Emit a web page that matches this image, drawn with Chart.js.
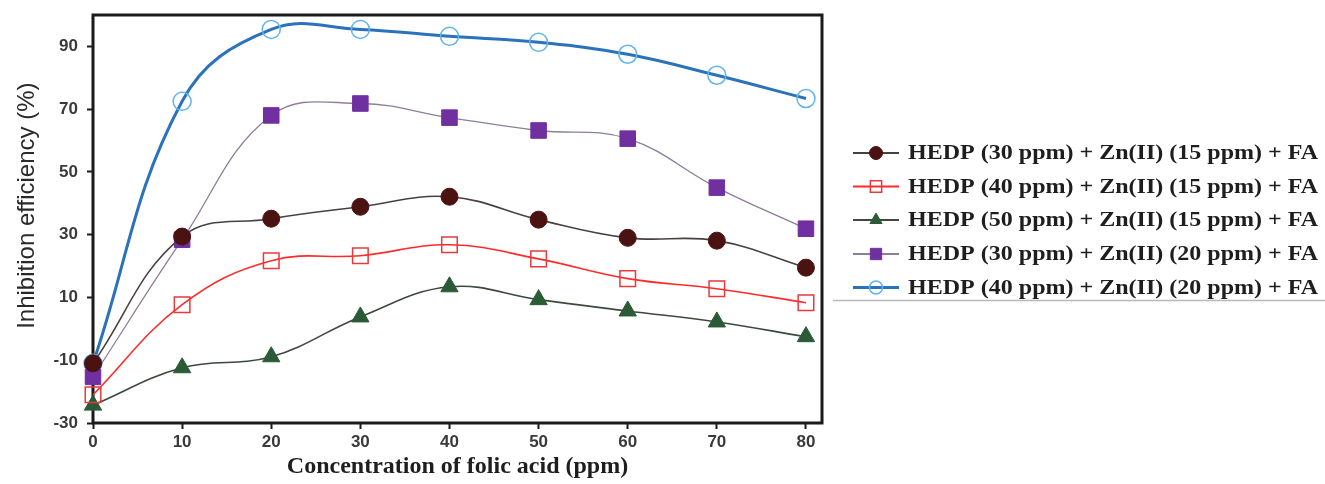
<!DOCTYPE html>
<html><head><meta charset="utf-8">
<script src="https://cdn.jsdelivr.net/npm/chart.js@4.4.1/dist/chart.umd.min.js"></script>
<style>html,body{margin:0;padding:0;background:#fff;}#wrap{width:1325px;height:484px;}</style>
</head><body><div id="wrap"><canvas id="c" width="1325" height="484"></canvas></div>
<script>
const concentrations = [0, 10, 20, 30, 40, 50, 60, 70, 80];
const xTicks = [0, 10, 20, 30, 40, 50, 60, 70, 80];
const yTicks = [-30, -10, 10, 30, 50, 70, 90];
const seriesLabels = [
  "HEDP (30 ppm) + Zn(II) (15 ppm) + FA",
  "HEDP (40 ppm) + Zn(II) (15 ppm) + FA",
  "HEDP (50 ppm) + Zn(II) (15 ppm) + FA",
  "HEDP (30 ppm) + Zn(II) (20 ppm) + FA",
  "HEDP (40 ppm) + Zn(II) (20 ppm) + FA"
];
const hedp30zn15 = [-11, 29.4, 35.1, 38.9, 42.1, 34.8, 29.0, 28.1, 19.5];
const hedp40zn15 = [-21, 7.7, 21.7, 23.3, 26.8, 22.3, 16.0, 12.8, 8.3];
const hedp50zn15 = [-24.3, -12.4, -8.9, 3.8, 13.4, 9.3, 5.7, 2.2, -2.5];
const hedp30zn20 = [-15.3, 28.4, 68.0, 71.8, 67.3, 63.2, 60.6, 45.0, 31.9];
const hedp40zn20 = [-11, 72.5, 95.4, 95.4, 93.2, 91.3, 87.5, 80.8, 73.4];

const styles = [
  {line:'#4a4040', lw:1.6, ps:'circle', r:8.5, lr:6.5, fill:'#4b1212', stroke:'#4b1212', bw:1},
  {line:'#ff2a2a', lw:1.6, ps:'rect', r:11, lr:8, fill:'rgba(0,0,0,0)', stroke:'#e83a3a', bw:1.5},
  {line:'#3c4a3e', lw:1.6, ps:'triangle', r:10, lr:7, fill:'#2b5a36', stroke:'#2b5a36', bw:1},
  {line:'#8e7d98', lw:1.3, ps:'rect', r:11, lr:8, fill:'#7030a0', stroke:'#7030a0', bw:1},
  {line:'#2a72bc', lw:3, ps:'circle', r:9, lr:6.5, fill:'rgba(0,0,0,0)', stroke:'#62b4ea', bw:1.5}
];
const allSeries = [hedp30zn15, hedp40zn15, hedp50zn15, hedp30zn20, hedp40zn20];

const datasets = allSeries.map((vals, i) => ({
  label: seriesLabels[i],
  data: concentrations.map((x, j) => ({x: x, y: vals[j]})),
  borderColor: styles[i].line,
  borderWidth: styles[i].lw,
  pointStyle: styles[i].ps,
  pointRadius: styles[i].r,
  pointBackgroundColor: styles[i].fill,
  pointBorderColor: styles[i].stroke,
  pointBorderWidth: styles[i].bw,
  legendRadius: styles[i].lr,
  tension: 0.4,
  clip: false,
  fill: false
}));

const frame = {
  id: 'frame',
  beforeDatasetsDraw(chart) {
    const a = chart.chartArea, ctx = chart.ctx;
    ctx.save();
    ctx.strokeStyle = '#1a1a1a';
    ctx.lineWidth = 3;
    ctx.strokeRect(a.left, a.top, a.right - a.left, a.bottom - a.top);
    ctx.restore();
  }
};

const legendPlugin = {
  id: 'customLegend',
  afterDraw(chart) {
    const ctx = chart.ctx;
    const x0 = 853, x1 = 899, tx = 908;
    const ys = [153, 186.5, 220, 254, 287.5];
    ctx.save();
    chart.data.datasets.forEach((ds, i) => {
      const y = ys[i];
      ctx.strokeStyle = ds.borderColor;
      ctx.lineWidth = Math.max(2, ds.borderWidth);
      ctx.beginPath(); ctx.moveTo(x0, y); ctx.lineTo(x1, y); ctx.stroke();
      ctx.fillStyle = ds.pointBackgroundColor;
      ctx.strokeStyle = ds.pointBorderColor;
      ctx.lineWidth = ds.pointBorderWidth;
      Chart.helpers.drawPoint(ctx, {pointStyle: ds.pointStyle, radius: ds.legendRadius, borderWidth: ds.pointBorderWidth, rotation: 0}, (x0 + x1) / 2, y);
      ctx.save();
      ctx.fillStyle = '#1e1e1e';
      ctx.font = 'bold 20px "Liberation Serif", "Times New Roman", serif';
      ctx.textBaseline = 'middle';
      ctx.textAlign = 'left';
      const w = ctx.measureText(ds.label).width;
      const sx = 410 / w;
      ctx.translate(tx, y + 1);
      ctx.scale(sx, 1);
      ctx.fillText(ds.label, 0, 0);
      ctx.restore();
    });
    ctx.strokeStyle = '#b8b8b8';
    ctx.lineWidth = 1.5;
    ctx.beginPath(); ctx.moveTo(833, 300.5); ctx.lineTo(1325, 300.5); ctx.stroke();
    ctx.restore();
  }
};

new Chart(document.getElementById('c'), {
  type: 'line',
  data: { datasets },
  plugins: [frame, legendPlugin],
  options: {
    responsive: false,
    animation: false,
    layout: { padding: { left: 0, right: 503, top: 15, bottom: 0 } },
    plugins: { legend: { display: false }, tooltip: { enabled: false } },
    scales: {
      x: {
        type: 'linear', min: 0, max: 81.8,
        afterBuildTicks: s => { s.ticks = xTicks.map(v => ({value: v})); },
        afterFit: s => { s.height = 61; s.paddingLeft = 0; s.paddingRight = 0; },
        grid: { drawOnChartArea: false, tickLength: 6, tickWidth: 2, tickColor: '#1a1a1a' },
        border: { display: false },
        ticks: { color: '#3a3a3a', padding: 3, font: { family: '"Liberation Sans", Arial, sans-serif', size: 17, weight: 'bold' } },
        title: { display: true, text: 'Concentration of folic acid (ppm)', color: '#1e1e1e',
          font: { family: '"Liberation Serif", "Times New Roman", serif', size: 24, weight: 'bold' },
          padding: { top: 0, bottom: 3 } }
      },
      y: {
        type: 'linear', min: -30, max: 100,
        afterBuildTicks: s => { s.ticks = yTicks.map(v => ({value: v})); },
        afterFit: s => { s.width = 93; s.paddingTop = 0; s.paddingBottom = 0; },
        grid: { drawOnChartArea: false, tickLength: 6, tickWidth: 2, tickColor: '#1a1a1a' },
        border: { display: false },
        ticks: { color: '#3a3a3a', padding: 9, font: { family: '"Liberation Sans", Arial, sans-serif', size: 17, weight: 'bold' } },
        title: { display: true, text: '    Inhibition efficiency (%)', color: '#2a2a2a',
          font: { family: '"Liberation Sans", Arial, sans-serif', size: 24, weight: 'normal' },
          padding: { top: 13, bottom: 0 } }
      }
    }
  }
});
</script></body></html>
